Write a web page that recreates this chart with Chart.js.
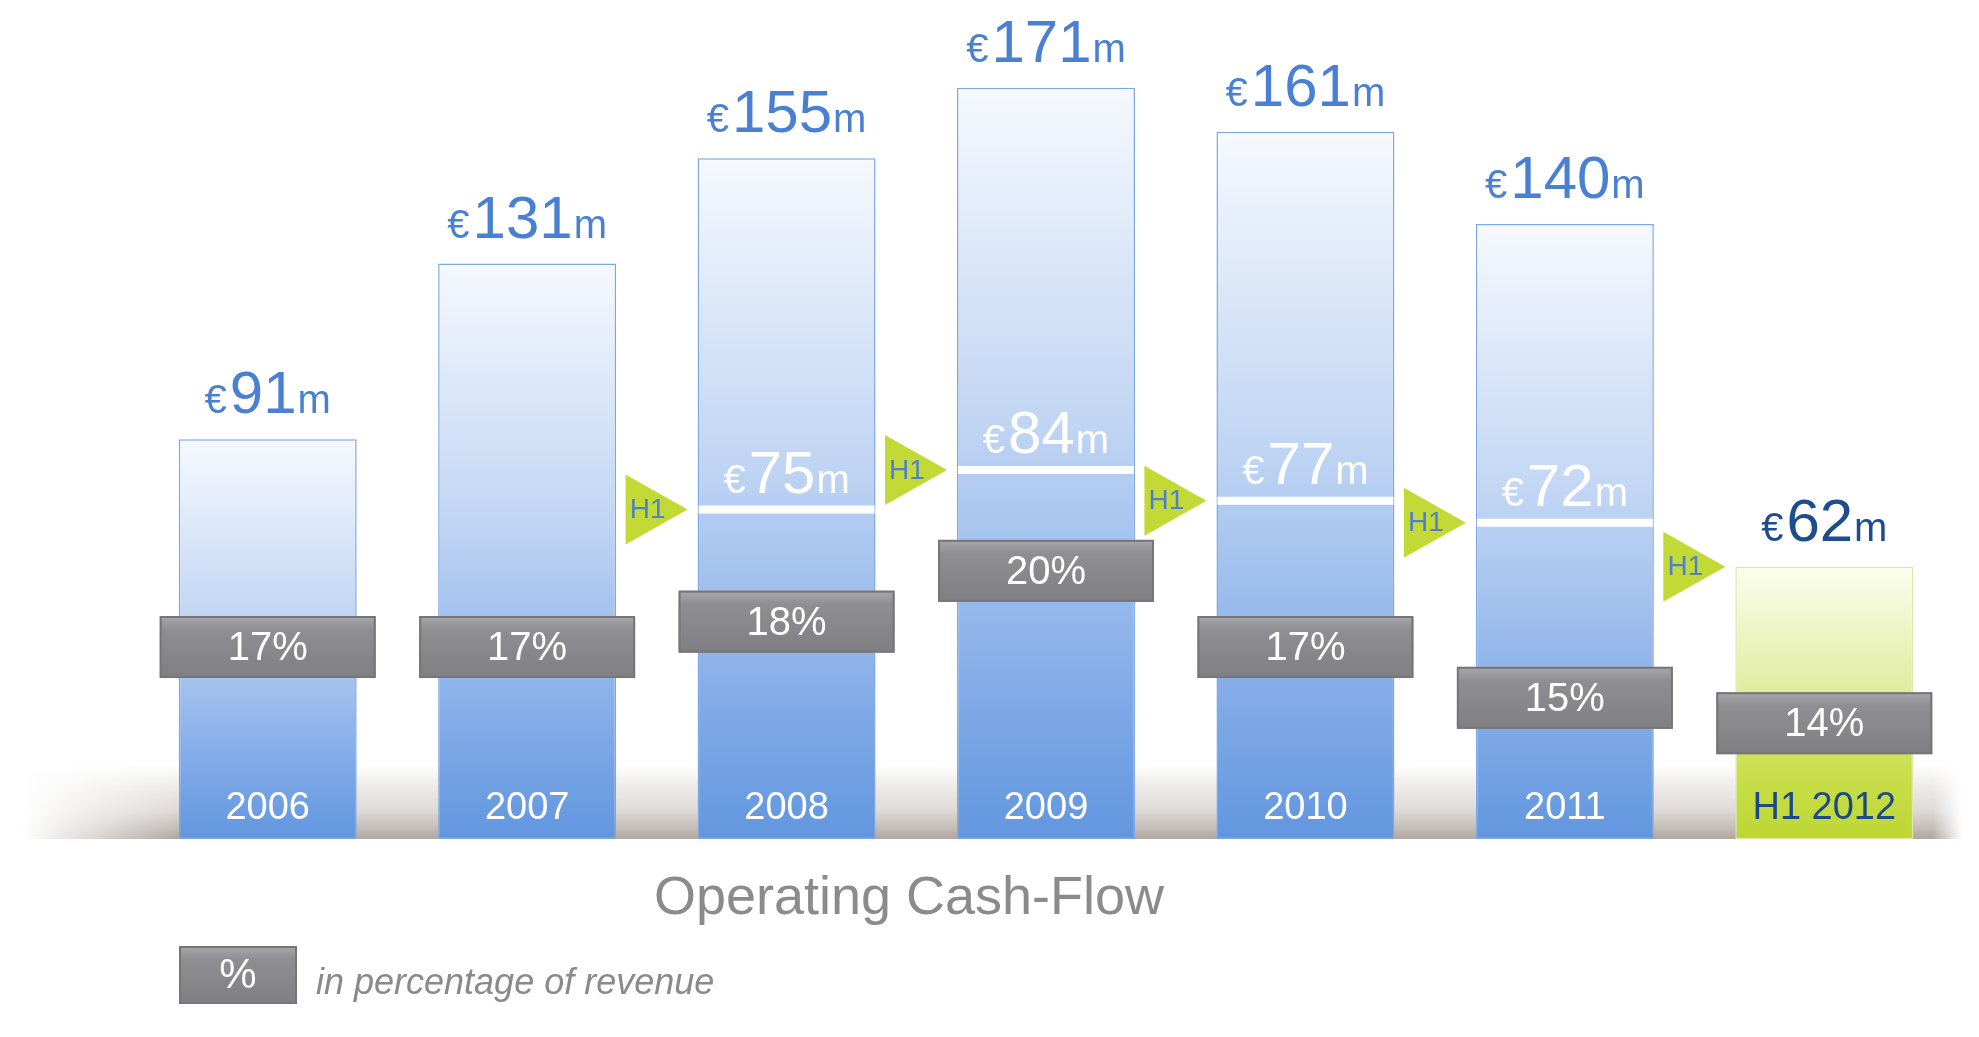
<!DOCTYPE html>
<html>
<head>
<meta charset="utf-8">
<script src="https://cdn.jsdelivr.net/npm/chart.js@4/dist/chart.umd.min.js"></script>
<style>
  html, body { margin: 0; padding: 0; background: #ffffff; }
  canvas { display: block; }
</style>
</head>
<body>
<canvas id="c" width="1979" height="1037"></canvas>
<script>
// ---- data ----
const categories = ['2006', '2007', '2008', '2009', '2010', '2011', 'H1 2012'];
const cashFlow = [91, 131, 155, 171, 161, 140, 62];          // €m, full year (H1 for 2012)
const h1CashFlow = [null, null, 75, 84, 77, 72, 62];          // €m, first half
const pctOfRevenue = [17, 17, 18, 20, 17, 15, 14];            // % of revenue
const chartTitle = 'Operating Cash-Flow';
const legendText = 'in percentage of revenue';
const halfYearIndex = 6;

const FONT = '"Liberation Sans", Arial, Helvetica, sans-serif';

function barGradient(ctx, top, bot, half) {
  const g = ctx.createLinearGradient(0, top, 0, bot);
  if (half) {
    g.addColorStop(0, '#fbfdee');
    g.addColorStop(0.45, '#e0ed9f');
    g.addColorStop(0.75, '#c9df4c');
    g.addColorStop(1, '#bdd632');
  } else {
    g.addColorStop(0, '#f6f9fe');
    g.addColorStop(0.45, '#c0d5f3');
    g.addColorStop(0.8, '#82abe7');
    g.addColorStop(1, '#6196df');
  }
  return g;
}

function drawValue(ctx, cx, baseline, value, color) {
  const small = '40px ' + FONT, big = '60px ' + FONT;
  ctx.font = small; const wE = ctx.measureText('€').width; const wM = ctx.measureText('m').width;
  ctx.font = big; const wN = ctx.measureText(String(value)).width;
  const gap1 = 3, gap2 = 1;
  const total = wE + gap1 + wN + gap2 + wM;
  let x = cx - total / 2;
  ctx.fillStyle = color; ctx.textAlign = 'left'; ctx.textBaseline = 'alphabetic';
  ctx.font = small; ctx.fillText('€', x, baseline); x += wE + gap1;
  ctx.font = big; ctx.fillText(String(value), x, baseline); x += wN + gap2;
  ctx.font = small; ctx.fillText('m', x, baseline);
}

function drawGrayBox(ctx, x, y, w, h) {
  const g = ctx.createLinearGradient(0, y, 0, y + h);
  g.addColorStop(0, '#a9a8ac');
  g.addColorStop(0.22, '#8f8e92');
  g.addColorStop(1, '#7f7e82');
  ctx.fillStyle = g;
  ctx.fillRect(x, y, w, h);
  ctx.strokeStyle = '#76757a';
  ctx.lineWidth = 2;
  ctx.strokeRect(x + 1, y + 1, w - 2, h - 2);
}

const decor = {
  id: 'decor',
  beforeDatasetsDraw(chart) {
    const ctx = chart.ctx;
    const y0 = chart.scales.y.getPixelForValue(0);
    // floor shadow band
    const bandTop = y0 - 74, bandH = 74, bandL = 22, bandR = 1962;
    const off = document.createElement('canvas');
    off.width = bandR - bandL; off.height = bandH;
    const o = off.getContext('2d');
    const gv = o.createLinearGradient(0, 0, 0, bandH);
    gv.addColorStop(0, 'rgba(185,176,170,0)');
    gv.addColorStop(0.6, 'rgba(196,188,183,0.55)');
    gv.addColorStop(1, 'rgba(176,166,160,1)');
    o.fillStyle = gv; o.fillRect(0, 0, off.width, bandH);
    o.globalCompositeOperation = 'destination-in';
    const gh = o.createLinearGradient(0, 0, off.width, 0);
    gh.addColorStop(0, 'rgba(0,0,0,0)');
    gh.addColorStop(0.08, 'rgba(0,0,0,1)');
    gh.addColorStop(0.985, 'rgba(0,0,0,1)');
    gh.addColorStop(1, 'rgba(0,0,0,0)');
    o.fillStyle = gh; o.fillRect(0, 0, off.width, bandH);
    ctx.drawImage(off, bandL, bandTop);
  },
  afterDatasetsDraw(chart) {
    const ctx = chart.ctx;
    const meta = chart.getDatasetMeta(0);
    const ys = chart.scales.y, y2 = chart.scales.y2;
    ctx.save();
    meta.data.forEach((bar, i) => {
      const w = bar.width;
      const left = bar.x - w / 2;
      // H1 marker
      if (h1CashFlow[i] != null) {
        const hy = ys.getPixelForValue(h1CashFlow[i]);
        if (i !== halfYearIndex) {
          ctx.fillStyle = '#ffffff';
          ctx.fillRect(left + 1, hy - 4, w - 2, 8);
          drawValue(ctx, bar.x, hy - 17, h1CashFlow[i], '#ffffff');
        }
        const tipX = left - 10;
        ctx.beginPath();
        ctx.moveTo(tipX, hy);
        ctx.lineTo(tipX - 62, hy - 35);
        ctx.lineTo(tipX - 62, hy + 35);
        ctx.closePath();
        ctx.fillStyle = '#c3d935';
        ctx.fill();
        ctx.fillStyle = '#4e80cc';
        ctx.font = '28px ' + FONT;
        ctx.textAlign = 'center'; ctx.textBaseline = 'middle';
        ctx.fillText('H1', tipX - 40, hy + 1);
      }
      // top value label
      drawValue(ctx, bar.x, bar.y - 26, cashFlow[i], i === halfYearIndex ? '#1f4d8b' : '#4a80d2');
      // percentage box
      const py = y2.getPixelForValue(pctOfRevenue[i]);
      const bw = w + 38, bh = 62;
      drawGrayBox(ctx, bar.x - bw / 2, py - bh / 2, bw, bh);
      ctx.fillStyle = '#ffffff';
      ctx.font = '40px ' + FONT;
      ctx.textAlign = 'center'; ctx.textBaseline = 'middle';
      ctx.fillText(pctOfRevenue[i] + '%', bar.x, py + 2);
      // category label inside bar
      ctx.fillStyle = i === halfYearIndex ? '#1d4a86' : '#ffffff';
      ctx.font = '38px ' + FONT;
      ctx.fillText(categories[i], bar.x, ys.getPixelForValue(0) - 30);
    });
    // title
    ctx.fillStyle = '#8b8b8b';
    ctx.font = '54px ' + FONT;
    ctx.textAlign = 'center'; ctx.textBaseline = 'alphabetic';
    ctx.fillText(chartTitle, 909, 914);
    // legend
    drawGrayBox(ctx, 179, 946, 118, 58);
    ctx.fillStyle = '#ffffff';
    ctx.font = '42px ' + FONT;
    ctx.textAlign = 'center'; ctx.textBaseline = 'middle';
    ctx.fillText('%', 238, 976);
    ctx.fillStyle = '#8a8a8a';
    ctx.font = 'italic 36px ' + FONT;
    ctx.textAlign = 'left';
    ctx.fillText(legendText, 316, 984);
    ctx.restore();
  }
};

new Chart(document.getElementById('c'), {
  type: 'bar',
  data: {
    labels: categories,
    datasets: [{
      data: cashFlow,
      yAxisID: 'y',
      barPercentage: 0.686,
      categoryPercentage: 1,
      borderWidth: 1.5,
      borderSkipped: false,
      borderColor: (c) => c.dataIndex === halfYearIndex ? '#dde8a6' : '#7ea7e2',
      backgroundColor: (c) => {
        const chart = c.chart;
        if (!chart.chartArea || !chart.scales.y) return '#9dbdea';
        const y = chart.scales.y;
        const top = y.getPixelForValue(cashFlow[c.dataIndex]);
        const bot = y.getPixelForValue(0);
        return barGradient(chart.ctx, top, bot, c.dataIndex === halfYearIndex);
      }
    }]
  },
  options: {
    responsive: false,
    animation: false,
    layout: { padding: { left: 138, right: 25, top: 0, bottom: 198 } },
    plugins: { legend: { display: false }, tooltip: { enabled: false }, title: { display: false } },
    scales: {
      x: { display: false },
      y: { display: false, min: 0, max: 191 },
      y2: { display: false, min: 9.44, max: 42.48, position: 'right' }
    }
  },
  plugins: [decor]
});
</script>
</body>
</html>
